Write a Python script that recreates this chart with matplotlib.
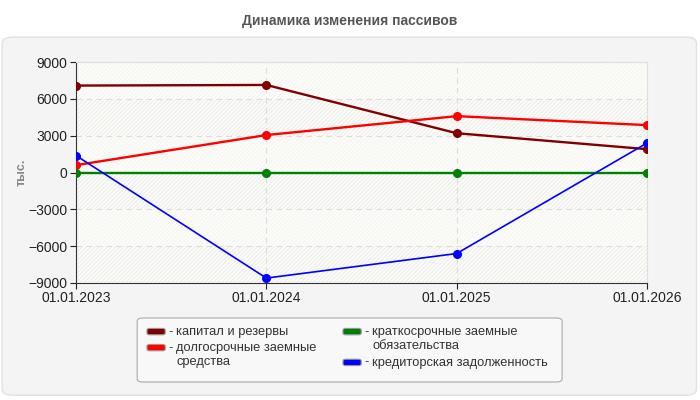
import matplotlib.pyplot as plt
from matplotlib.patches import FancyBboxPatch, Rectangle

plt.rcParams['font.family'] = ['Liberation Sans', 'DejaVu Sans']

# data (thousands)
dates = ['01.01.2023', '01.01.2024', '01.01.2025', '01.01.2026']
capital = [7080, 7130, 3200, 1900]
long_term = [600, 3050, 4590, 3860]
short_term = [0, 0, 0, 0]
payables = [1380, -8600, -6600, 2400]

names = ['капитал и резервы', 'долгосрочные заемные\nсредства',
         'краткосрочные заемные\nобязательства', 'кредиторская задолженность']
colors = ['#800000', '#ff0000', '#008000', '#0000ff']
series = [capital, long_term, short_term, payables]
widths = [1.7, 1.7, 1.7, 1.2]

yticks = [-9000, -6000, -3000, 0, 3000, 6000, 9000]

fig = plt.figure(figsize=(7, 4), dpi=100)
fig.patch.set_facecolor('white')

# gray rounded panel behind everything
panel = FancyBboxPatch((0.003, 0.012), 0.992, 0.895, boxstyle='round,pad=0,rounding_size=0.015',
                       transform=fig.transFigure, facecolor='#f4f4f4', edgecolor='#e2e2e2',
                       linewidth=1, zorder=-5)
fig.patches.append(panel)

fig.text(0.5, 0.948, 'Динамика изменения пассивов', ha='center', va='center',
         fontsize=10, fontweight='bold', color='#555555')

ax = fig.add_axes([0.1086, 0.2925, 0.8157, 0.5525])
ax.set_facecolor('#fefef8')
x = list(range(len(dates)))

# hatched bands
for i in range(len(yticks) - 1):
    ax.add_patch(Rectangle((x[0], yticks[i]), x[-1] - x[0], yticks[i + 1] - yticks[i],
                           facecolor='none', edgecolor='#efefef' if i % 2 == 0 else '#f5f5f5',
                           hatch='////////', linewidth=0, zorder=0))

for s, c, w in zip(series, colors, widths):
    ax.plot(x, s, color=c, linewidth=w, marker='o', markersize=5.5, zorder=3)

ax.set_xlim(x[0], x[-1])
ax.set_ylim(-9000, 9000)
ax.set_xticks(x)
ax.set_xticklabels(dates)
ax.set_yticks(yticks)
ax.tick_params(labelsize=10, colors='#222222', length=4, width=0.8, pad=2)
ax.grid(True, color='#dddddd', linestyle=(0, (5, 4)), linewidth=0.8)
ax.set_axisbelow(True)
for sp in ['top', 'right']:
    ax.spines[sp].set_color('#e0e0e0')
for sp in ['left', 'bottom']:
    ax.spines[sp].set_color('#333333')
ax.set_ylabel('тыс.', fontsize=9, fontweight='bold', color='#888888')
ax.yaxis.set_label_coords(-0.085, 0.5)

# legend
leg_box = FancyBboxPatch((0.196, 0.045), 0.607, 0.16, boxstyle='round,pad=0,rounding_size=0.008',
                         transform=fig.transFigure, facecolor='#f8f8f8', edgecolor='#aaaaaa',
                         linewidth=0.8, zorder=1)
fig.patches.append(leg_box)
pos = [(0.210, 0.163), (0.210, 0.123), (0.490, 0.163), (0.490, 0.086)]
for (px, py), c, n in zip(pos, colors, names):
    fig.patches.append(FancyBboxPatch((px, py), 0.026, 0.016,
                                      boxstyle='round,pad=0,rounding_size=0.004',
                                      transform=fig.transFigure, facecolor=c,
                                      edgecolor='#999999', linewidth=0.8, zorder=2))
    fig.text(px + 0.030, py + 0.008, '-', fontsize=9.3, color='#333333', va='center')
    fig.text(px + 0.042, py + 0.022, n, fontsize=9.3, color='#333333', va='top',
             linespacing=1.25)

fig.savefig('out.png', dpi=100)
